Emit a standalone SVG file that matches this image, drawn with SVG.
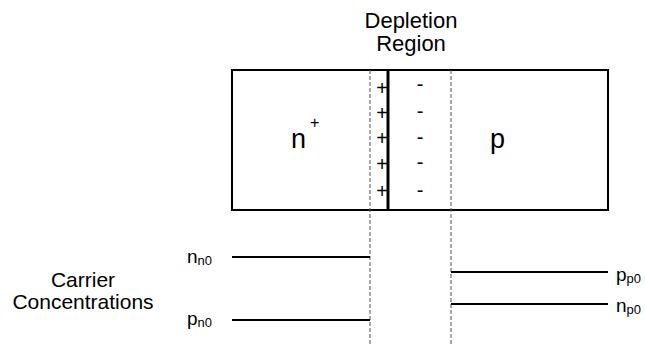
<svg xmlns="http://www.w3.org/2000/svg" width="645" height="344" viewBox="0 0 645 344">
<style>
text{font-family:"Liberation Sans",Arial,sans-serif;fill:#000}
.title{font-size:22px;text-anchor:middle}
.big{font-size:27px}
.sym{font-size:20px;text-anchor:middle}
.cl{font-size:19px}
.sub{font-size:13px}
.dash{stroke:#555;stroke-width:1;stroke-dasharray:4 2;fill:none}
.conc{stroke:#000;stroke-width:2;fill:none}
</style>
<rect width="645" height="344" fill="#fff"/>
<g id="title"><text class="title" x="411" y="28">Depletion</text><text class="title" x="411" y="51">Region</text></g>
<g id="junction">
<rect x="232" y="70" width="376" height="140" fill="#fff" stroke="#000" stroke-width="2"/>
<line x1="388" y1="69" x2="388" y2="211" stroke="#000" stroke-width="3"/>
</g>
<g id="n-region"><text class="big" x="291" y="148">n</text><text x="310" y="128" font-size="16">+</text></g>
<g id="p-region"><text class="big" x="490" y="148">p</text></g>
<g id="charges">
<text class="sym" x="382" y="95">+</text><text class="sym" x="382" y="120">+</text><text class="sym" x="382" y="145">+</text><text class="sym" x="382" y="171">+</text><text class="sym" x="382" y="198">+</text>
<text class="sym" x="420" y="91">-</text><text class="sym" x="420" y="118">-</text><text class="sym" x="420" y="144">-</text><text class="sym" x="420" y="169">-</text><text class="sym" x="420" y="197">-</text>
</g>
<g id="connectors">
<line class="dash" x1="370" y1="70" x2="370" y2="344"/>
<line class="dash" x1="451" y1="70" x2="451" y2="344"/>
<line class="conc" x1="232" y1="257" x2="370" y2="257"/>
<line class="conc" x1="232" y1="320" x2="370" y2="320"/>
<line class="conc" x1="451" y1="272" x2="608" y2="272"/>
<line class="conc" x1="451" y1="304" x2="608" y2="304"/>
</g>
<g id="labels">
<text class="cl" x="187" y="263">n<tspan class="sub" dy="2">n0</tspan></text>
<text class="cl" x="187" y="325">p<tspan class="sub" dy="2">n0</tspan></text>
<text class="cl" x="616" y="281">p<tspan class="sub" dy="2">p0</tspan></text>
<text class="cl" x="616" y="312">n<tspan class="sub" dy="2">p0</tspan></text>
</g>
<g id="carrier"><text x="83" y="287" font-size="21" text-anchor="middle">Carrier</text><text x="83" y="309" font-size="21" text-anchor="middle">Concentrations</text></g>
</svg>
